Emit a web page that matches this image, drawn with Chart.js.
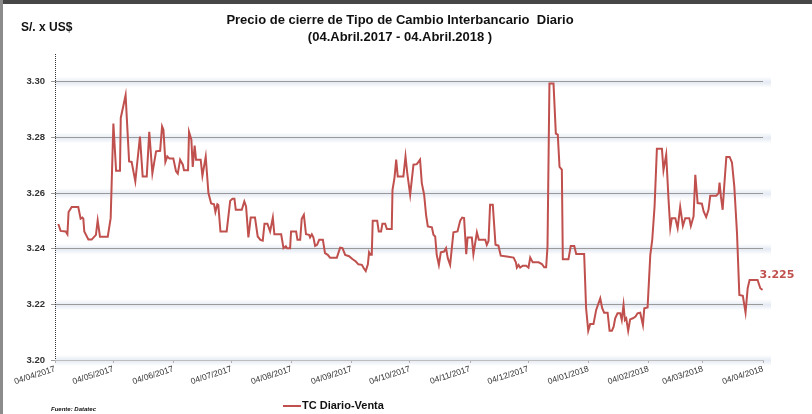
<!DOCTYPE html>
<html>
<head>
<meta charset="utf-8">
<script src="https://cdn.jsdelivr.net/npm/chart.js@4.4.1/dist/chart.umd.min.js"></script>
<style>
    html, body { margin: 0; padding: 0; background: #fff; }
    #wrap { position: relative; width: 812px; height: 414px; overflow: hidden; font-family: "Liberation Sans", Arial, sans-serif; color: #111; }
    canvas { position: absolute; left: 0; top: 0; }
    .frame-top { position: absolute; left: 0; top: 0; width: 812px; height: 4px; background: #474747; }
    .frame-left { position: absolute; left: 0; top: 0; width: 3px; height: 414px; background: #8c8c8c; }
    #title { position: absolute; left: 0; top: 11px; width: 800px; text-align: center; font-weight: bold; font-size: 13px; line-height: 17px; }
    #unit { position: absolute; left: 21px; top: 20px; font-weight: bold; font-size: 12px; }
    #source { position: absolute; left: 51px; top: 406px; font-weight: bold; font-style: italic; font-size: 6px; }
    #legend { position: absolute; left: 283px; top: 399px; font-weight: bold; font-size: 11px; white-space: nowrap; }
    #legend .swatch { display: inline-block; width: 18px; height: 2px; background: #C0504D; vertical-align: middle; margin-right: 1px; }
</style>
</head>
<body>
<div id="wrap">
    <canvas id="fxChart" width="812" height="414"></canvas>
    <div class="frame-top"></div>
    <div class="frame-left"></div>
    <div id="unit">S/. x US$</div>
    <div id="title">Precio de cierre de Tipo de Cambio Interbancario&nbsp; Diario<br>(04.Abril.2017 - 04.Abril.2018 )</div>
    <div id="source">Fuente: Datatec</div>
    <div id="legend"><span class="swatch"></span>TC Diario-Venta</div>
</div>
<script>
// Días desde el 04/04/2017 y tipo de cambio
const daysAprJun = [1.7, 2.9, 5.5, 6.4, 7.0, 8.6, 12.0, 13.2, 14.1, 14.6, 15.1, 17.2, 18.9, 21.1, 22.0, 23.2, 27.2, 28.7, 30.1, 31.5, 33.5, 33.9, 36.4, 38.2, 39.5, 41.4, 43.8, 45.2, 47.3, 48.6, 50.2, 52.1, 54.2, 55.2, 55.9, 56.9, 57.9, 59.0, 61.0, 62.4, 63.3, 64.5, 65.9, 66.5, 68.6, 69.1, 70.3, 71.0, 72.0, 72.7, 75.1, 76.0, 77.7, 79.1, 80.5, 82.0, 82.7, 83.7, 84.2, 85.3, 88.5];
const ratesAprJun = [3.2489, 3.2464, 3.2462, 3.2452, 3.2532, 3.2550, 3.2550, 3.2508, 3.2512, 3.2508, 3.2462, 3.2433, 3.2433, 3.2450, 3.2502, 3.2443, 3.2443, 3.2510, 3.2850, 3.2680, 3.2680, 3.2870, 3.2952, 3.2714, 3.2712, 3.2642, 3.2803, 3.2660, 3.2660, 3.2820, 3.2671, 3.2750, 3.2752, 3.2840, 3.2828, 3.2712, 3.2732, 3.2724, 3.2724, 3.2678, 3.2670, 3.2720, 3.2702, 3.2682, 3.2682, 3.2820, 3.2792, 3.2694, 3.2771, 3.2720, 3.2720, 3.2662, 3.2731, 3.2600, 3.2563, 3.2560, 3.2532, 3.2560, 3.2557, 3.2462, 3.2462];

const daysJulSep = [90.3, 91.5, 92.5, 93.2, 96.3, 97.6, 98.5, 99.7, 100.9, 103.1, 104.5, 105.9, 107.1, 108.0, 109.5, 110.9, 112.3, 113.1, 116.6, 117.8, 119.0, 119.6, 121.2, 121.7, 124.3, 125.0, 126.4, 127.2, 128.3, 129.4, 131.0, 131.5, 132.4, 133.2, 134.1, 135.1, 136.2, 138.1, 139.2, 140.6, 141.8, 145.3, 147.0, 148.2, 149.6, 151.6, 153.3, 155.1, 156.4, 158.2, 159.2, 160.2, 161.3, 161.9, 162.6, 163.3, 163.8, 166.1, 166.9, 168.1, 168.8, 170.2, 171.1, 173.6, 174.0, 175.0, 175.9, 176.7, 179.6];
const ratesJulSep = [3.2572, 3.2580, 3.2580, 3.2540, 3.2540, 3.2570, 3.2552, 3.2441, 3.2512, 3.2512, 3.2444, 3.2432, 3.2429, 3.2490, 3.2490, 3.2462, 3.2512, 3.2452, 3.2452, 3.2402, 3.2409, 3.2402, 3.2402, 3.2462, 3.2462, 3.2432, 3.2432, 3.2508, 3.2522, 3.2452, 3.2450, 3.2441, 3.2452, 3.2441, 3.2410, 3.2414, 3.2432, 3.2432, 3.2384, 3.2378, 3.2368, 3.2368, 3.2404, 3.2402, 3.2378, 3.2373, 3.2363, 3.2354, 3.2344, 3.2342, 3.2330, 3.2320, 3.2344, 3.2387, 3.2378, 3.2378, 3.2501, 3.2501, 3.2462, 3.2462, 3.2490, 3.2490, 3.2471, 3.2471, 3.2612, 3.2654, 3.2720, 3.2660, 3.2660];

const daysOctDic = [180.7, 181.7, 183.1, 184.8, 186.5, 187.4, 188.2, 189.1, 190.3, 191.3, 192.2, 194.3, 195.1, 196.0, 196.8, 197.9, 198.9, 200.6, 201.6, 202.5, 203.7, 205.4, 207.5, 208.9, 209.9, 210.9, 212.0, 212.7, 214.9, 215.7, 216.8, 217.5, 218.5, 221.8, 222.6, 223.5, 224.3, 225.7, 227.1, 228.6, 229.8, 232.9, 236.4, 237.6, 238.1, 239.0, 239.8, 241.2, 242.9, 244.1, 245.0, 246.3, 249.3];
const ratesOctDic = [3.2732, 3.2666, 3.2594, 3.2702, 3.2704, 3.2712, 3.2720, 3.2636, 3.2594, 3.2522, 3.2480, 3.2477, 3.2450, 3.2444, 3.2378, 3.2342, 3.2387, 3.2390, 3.2402, 3.2366, 3.2342, 3.2459, 3.2462, 3.2501, 3.2512, 3.2510, 3.2380, 3.2440, 3.2440, 3.2380, 3.2428, 3.2459, 3.2432, 3.2432, 3.2414, 3.2428, 3.2558, 3.2558, 3.2414, 3.2411, 3.2375, 3.2372, 3.2368, 3.2351, 3.2332, 3.2342, 3.2332, 3.2339, 3.2339, 3.2332, 3.2368, 3.2351, 3.2351];

const daysEneAbr = [251.0, 252.2, 253.2, 253.9, 254.9, 257.0, 258.2, 259.2, 260.1, 261.3, 261.8, 264.7, 265.9, 267.7, 268.7, 272.8, 273.8, 274.9, 275.9, 277.6, 279.0, 280.2, 281.1, 282.1, 283.1, 284.9, 285.9, 287.1, 288.0, 288.8, 290.0, 291.4, 292.2, 293.1, 293.8, 294.5, 295.5, 296.5, 297.9, 299.3, 300.3, 301.7, 303.1, 303.8, 305.5, 306.9, 307.9, 309.1, 310.3, 312.9, 313.7, 315.1, 316.3, 317.2, 318.0, 319.8, 321.0, 322.3, 323.7, 324.9, 327.0, 327.8, 329.2, 330.1, 331.3, 333.5, 334.4, 335.7, 336.9, 337.8, 340.9, 342.1, 342.6, 343.3, 344.2, 345.0, 346.1, 347.8, 349.0, 350.2, 351.6, 352.8, 354.6, 356.0, 357.1, 358.1, 362.2, 363.6, 364.8];
const ratesEneAbr = [3.2345, 3.2333, 3.2333, 3.2408, 3.2994, 3.2994, 3.2814, 3.2810, 3.2694, 3.2684, 3.2362, 3.2362, 3.2410, 3.2410, 3.2381, 3.2381, 3.2186, 3.2105, 3.2129, 3.2129, 3.2180, 3.2204, 3.2222, 3.2186, 3.2170, 3.2170, 3.2105, 3.2105, 3.2120, 3.2150, 3.2168, 3.2168, 3.2144, 3.2198, 3.2144, 3.2150, 3.2105, 3.2146, 3.2150, 3.2156, 3.2168, 3.2170, 3.2126, 3.2186, 3.2189, 3.2378, 3.2432, 3.2552, 3.2759, 3.2759, 3.2682, 3.2738, 3.2576, 3.2474, 3.2510, 3.2510, 3.2474, 3.2550, 3.2482, 3.2510, 3.2510, 3.2482, 3.2516, 3.2666, 3.2564, 3.2562, 3.2534, 3.2514, 3.2540, 3.2590, 3.2590, 3.2600, 3.2638, 3.2588, 3.2540, 3.2624, 3.2730, 3.2730, 3.2710, 3.2624, 3.2456, 3.2234, 3.2231, 3.2171, 3.2258, 3.2288, 3.2288, 3.2258, 3.2252];

// Eje X: fechas del día 4 de cada mes
const tickDays = [0, 30, 61, 91, 122, 153, 183, 214, 244, 275, 306, 334, 365];
const tickLabels = ['04/04/2017', '04/05/2017', '04/06/2017', '04/07/2017', '04/08/2017', '04/09/2017', '04/10/2017',
    '04/11/2017', '04/12/2017', '04/01/2018', '04/02/2018', '04/03/2018', '04/04/2018'];
const yTicks = [3.20, 3.22, 3.24, 3.26, 3.28, 3.30];

const days = [...daysAprJun, ...daysJulSep, ...daysOctDic, ...daysEneAbr];
const rates = [...ratesAprJun, ...ratesJulSep, ...ratesOctDic, ...ratesEneAbr];
if (days.length !== rates.length) {
    throw new Error(`days (${days.length}) y rates (${rates.length}) no coinciden`);
}

const LINE_COLOR = '#C0504D';

// Sombra suave bajo las líneas de la cuadrícula
const gridGlow = {
    id: 'gridGlow',
    beforeDraw(chart) {
        const { ctx, chartArea } = chart;
        const yScale = chart.scales.y;
        ctx.save();
        yTicks.forEach(v => {
            const py = yScale.getPixelForValue(v);
            const g = ctx.createLinearGradient(0, py - 5, 0, py + 6);
            g.addColorStop(0, 'rgba(226,232,242,0)');
            g.addColorStop(0.5, 'rgba(226,232,242,0.9)');
            g.addColorStop(1, 'rgba(226,232,242,0)');
            ctx.fillStyle = g;
            ctx.fillRect(chartArea.left, py - 5, chartArea.right - chartArea.left + 8, 11);
        });
        ctx.restore();
    }
};

// Eje Y punteado (border.dash también afectaría a la cuadrícula)
const dottedYAxis = {
    id: 'dottedYAxis',
    afterDraw(chart) {
        const { ctx, chartArea } = chart;
        const x = Math.round(chartArea.left) + 0.5;
        ctx.save();
        ctx.strokeStyle = '#333';
        ctx.lineWidth = 1;
        ctx.setLineDash([1, 1]);
        ctx.beginPath();
        ctx.moveTo(x, chartArea.top);
        ctx.lineTo(x, chartArea.bottom);
        ctx.stroke();
        ctx.restore();
    }
};

// Etiqueta con el último valor
const lastValueLabel = {
    id: 'lastValueLabel',
    afterDatasetsDraw(chart) {
        const pts = chart.getDatasetMeta(0).data;
        const last = pts[pts.length - 1];
        const ctx = chart.ctx;
        ctx.save();
        ctx.font = 'bold 11px "DejaVu Sans", sans-serif';
        ctx.fillStyle = LINE_COLOR;
        ctx.textAlign = 'left';
        ctx.textBaseline = 'middle';
        ctx.fillText(rates[rates.length - 1].toFixed(3), last.x - 3, last.y - 15);
        ctx.restore();
    }
};

const ctx = document.getElementById('fxChart').getContext('2d');
new Chart(ctx, {
    type: 'line',
    data: {
        datasets: [{
            label: 'TC Diario-Venta',
            data: days.map((d, i) => ({ x: d, y: rates[i] })),
            borderColor: LINE_COLOR,
            borderWidth: 2,
            pointRadius: 0,
            tension: 0,
            fill: false
        }]
    },
    options: {
        responsive: false,
        animation: false,
        devicePixelRatio: 1,
        layout: { padding: { left: 0, right: 49, top: 54, bottom: 0 } },
        plugins: {
            legend: { display: false },
            title: { display: false },
            tooltip: { enabled: false }
        },
        scales: {
            x: {
                type: 'linear',
                min: 0,
                max: 365,
                afterBuildTicks: axis => { axis.ticks = tickDays.map(value => ({ value })); },
                afterFit: axis => { axis.height = 54; },
                ticks: {
                    autoSkip: false,
                    minRotation: 18,
                    maxRotation: 18,
                    padding: 1,
                    color: '#333',
                    font: { family: 'Liberation Sans', size: 8.5 },
                    callback: (value, index) => tickLabels[index]
                },
                grid: { drawOnChartArea: false, drawTicks: true, tickLength: 3, color: '#b0b0b0' },
                border: { color: '#bdbdbd', width: 1 }
            },
            y: {
                min: 3.20,
                max: 3.31,
                afterBuildTicks: axis => { axis.ticks = yTicks.map(value => ({ value })); },
                afterFit: axis => { axis.width = 55; },
                ticks: {
                    padding: 6,
                    color: '#333',
                    font: { family: 'Liberation Sans', size: 9.5, weight: 'bold' },
                    callback: value => value.toFixed(2)
                },
                grid: { color: '#9a9a9a', lineWidth: 1, tickLength: 4 },
                border: { display: false }
            }
        }
    },
    plugins: [gridGlow, dottedYAxis, lastValueLabel]
});
</script>
</body>
</html>
